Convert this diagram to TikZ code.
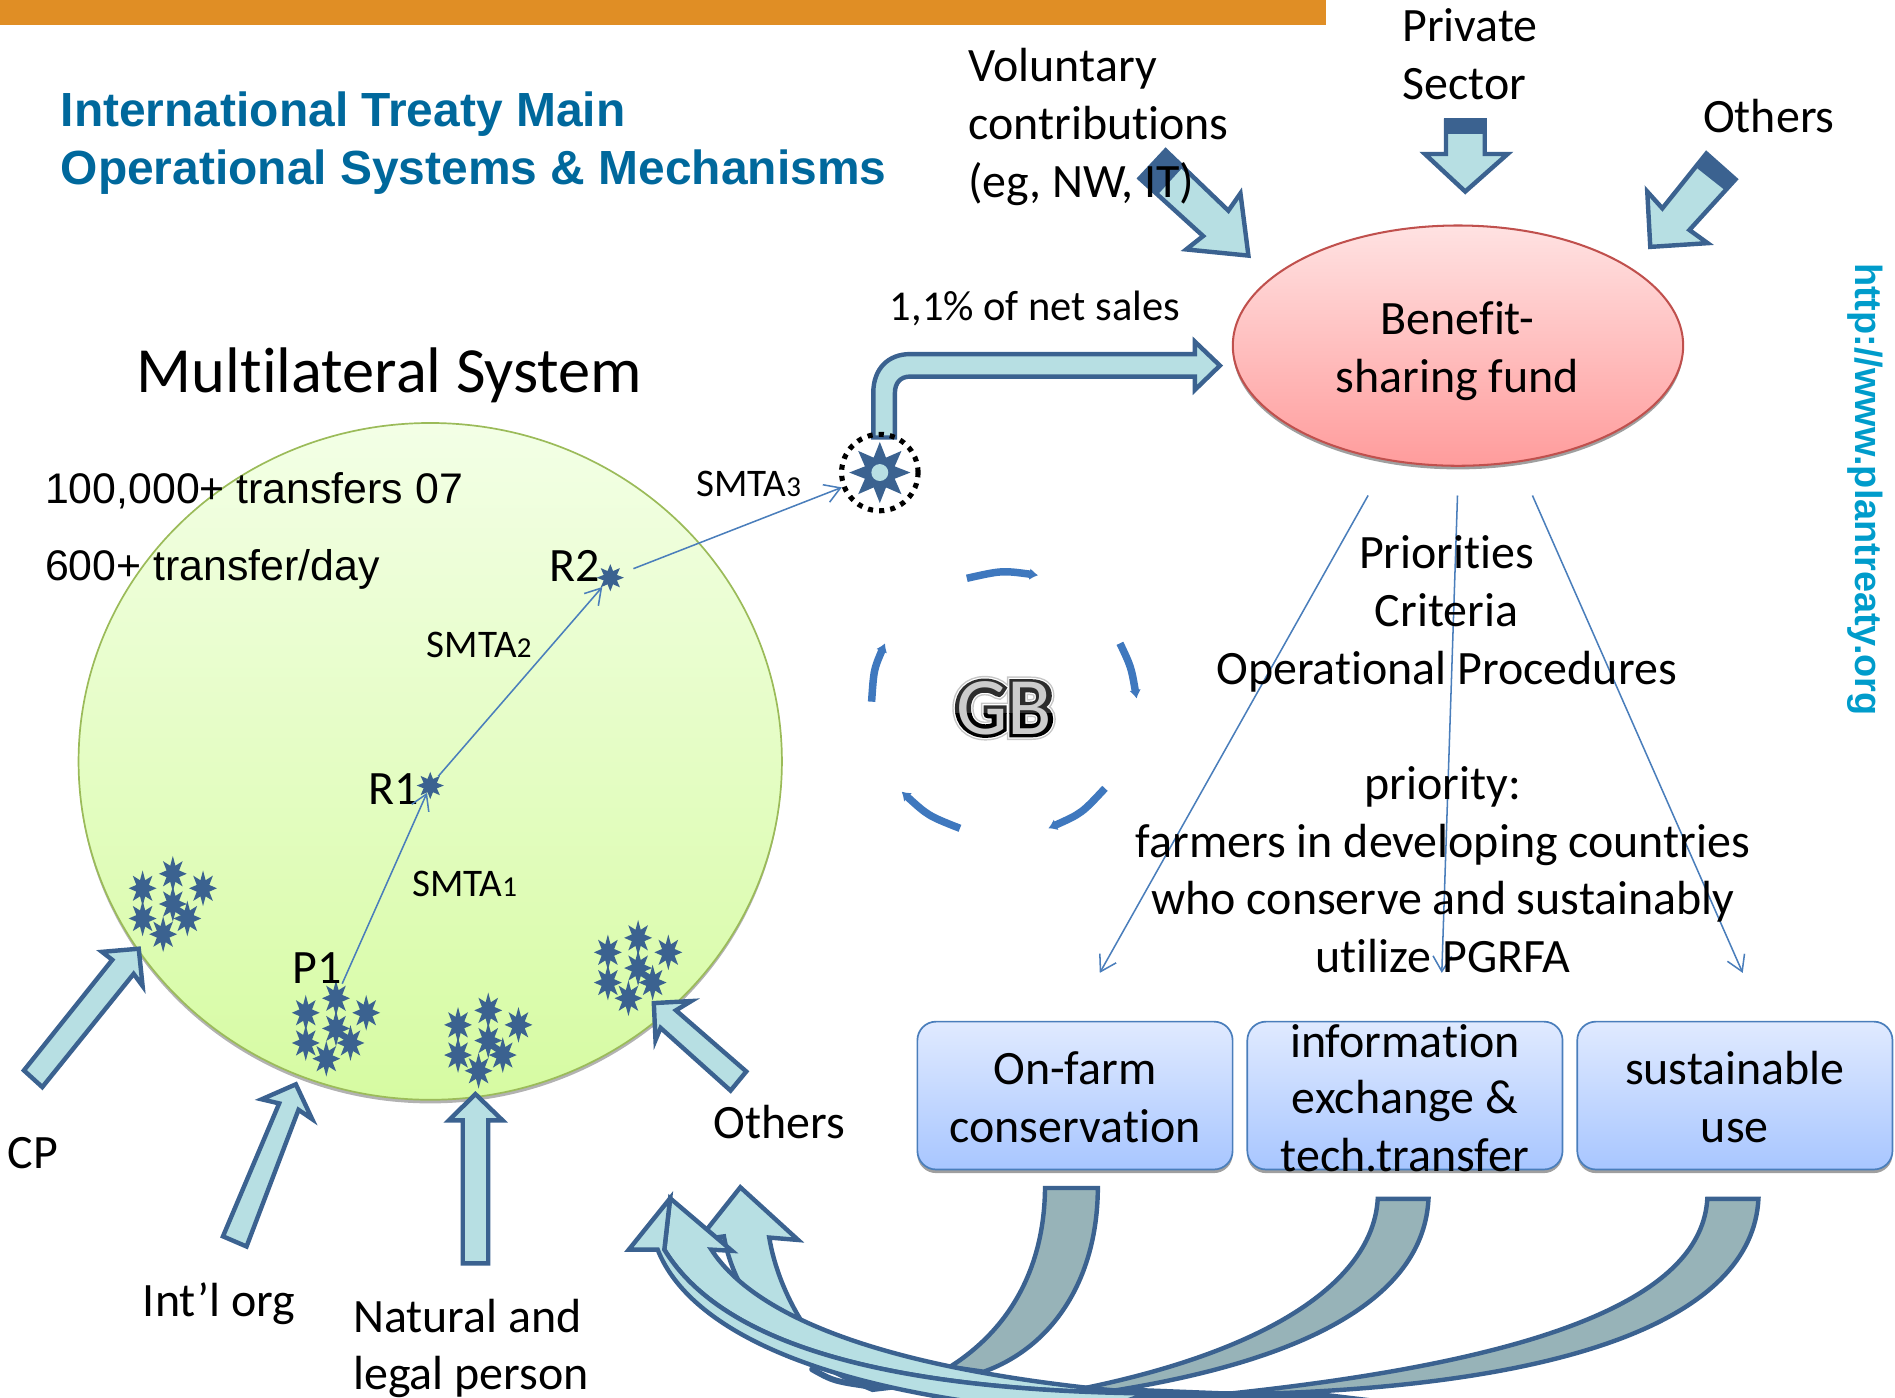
\documentclass[tikz,border=0pt]{standalone}
\usepackage{fontspec}
\setmainfont{Carlito}[Ligatures=NoCommon]
\newfontfamily\arialfont{Liberation Sans}
\newfontface\gbhalo{Carlito Bold}[FakeBold=13]
\newfontface\gbwhite{Carlito Bold}[FakeBold=9.5]
\newfontface\gbdark{Carlito Bold}[FakeBold=6.5]
\usetikzlibrary{shapes.geometric,arrows.meta}
\definecolor{dkblue}{HTML}{3B6290}
\definecolor{pale}{HTML}{B7DFE3}
\definecolor{teal}{HTML}{97B3B8}
\definecolor{thinblue}{HTML}{4A7EBB}
\definecolor{titleblue}{HTML}{00689C}
\definecolor{urlblue}{HTML}{009CCB}
\definecolor{barorange}{HTML}{E08E25}
\definecolor{turnblue}{HTML}{3F78BE}
\tikzset{
    lbl/.style={font=\fontsize{28.2}{34}\selectfont, inner sep=0pt, anchor=base west, yshift=-1.2pt},
    lblc/.style={font=\fontsize{28.2}{34}\selectfont, inner sep=0pt, anchor=base, yshift=-1.2pt},
    small/.style={font=\fontsize{23}{28}\selectfont, inner sep=0pt, anchor=base west, yshift=-.8pt},
    arial/.style={font=\arialfont\fontsize{25.2}{31}\selectfont, inner sep=0pt, anchor=base west, yshift=-1pt},
    headline/.style={font=\arialfont\bfseries\fontsize{28.2}{34}\selectfont, text=titleblue, inner sep=0pt, anchor=base west},
    bigarrow/.style={draw=dkblue, fill=pale, line width=2.6pt, line join=miter},
    bendarrow/.style={draw=dkblue, fill=teal, line width=2.6pt},
    thinarrow/.style={draw=thinblue, line width=.9pt, -{Straight Barb[length=9pt,width=11pt]}},
    turnarrow/.style={draw=turnblue, line width=4.4pt, -{Latex[length=5pt,width=7pt]}},
    starmark/.style={star, star points=8, star point ratio=1.9, inner sep=0pt, minimum size=17pt, fill=dkblue},
    tallstar/.style={starmark, star point ratio=2.05, minimum size=21pt, xscale=.78, transform shape},
    taskbox/.style={rectangle, rounded corners=11pt, draw=thinblue, line width=1pt,
        top color={rgb,255:red,224;green,234;blue,255}, bottom color={rgb,255:red,168;green,198;blue,255}, minimum width=185.5pt, minimum height=87pt},
    boxshade/.style={rectangle, rounded corners=11pt, fill=gray!75, minimum width=185.5pt, minimum height=87pt},
    gbtext/.style={inner sep=0pt},
}
\begin{document}
\begin{tikzpicture}[x=0.025cm, y=-0.025cm]
\useasboundingbox (0,0) rectangle (1568,1156);
\clip (0,0) rectangle (1568,1156);

% top bar and title
\fill[barorange] (0,0) rectangle (1097,20.5);
\node[headline] (title1) at (50,105) {International Treaty Main};
\node[headline] (title2) at (50,153) {Operational Systems \& Mechanisms};

% multilateral circle
\fill[gray!60] (356,633) ellipse (291 and 280);
\draw[draw={rgb,255:red,155;green,187;blue,89}, line width=1pt, top color={rgb,255:red,243;green,255;blue,230}, bottom color={rgb,255:red,214;green,251;blue,162}]
    (356,630) ellipse (291 and 280);
\node[font=\fontsize{37.9}{42}\selectfont, inner sep=0pt, anchor=base west] (mls) at (113,325) {Multilateral System};
\node[arial] (count1) at (37,415) {100,000+ transfers 07};
\node[arial] (count2) at (37,479) {600+ transfer/day};

% stars
\foreach \cx/\cy/\cn in {143/723/a,278/826/b,404/836/c,528/776/d}
{
    \foreach \dx/\dy/\i in {-25/12/1,0/0/2,25/12/3,0/25/4,-25/37/5,12/37/6,-8/50/7}
    {
        \node[tallstar] (star\cn\i) at (\cx+\dx,\cy+\dy) {};
    }
}
\node[starmark, minimum size=16pt] (r1) at (356,650) {};
\node[starmark, minimum size=16pt] (r2) at (505,478) {};
\node[lbl] (r1text) at (305,664) {R1};
\node[lbl] (r2text) at (454,479.5) {R2};
\node[lbl] (p1text) at (242,812) {P1};
\node[small] (smta1) at (341,741) {SMTA{\fontsize{17}{20}\selectfont 1}};
\node[small] (smta2) at (353,543) {SMTA{\fontsize{17}{20}\selectfont 2}};
\node[small] (smta3) at (576,410) {SMTA{\fontsize{17}{20}\selectfont 3}};

% elbow from hub to fund
\draw[bigarrow] (722.6,362)--(722.6,325) .. controls (722.6,305) and (735,293) .. (753,293)
    --(988.7,293)--(988.7,282.7)--(1009.4,302.5)--(988.7,322.6)--(988.7,311.6)--(753,311.6)
    .. controls (745,311.6) and (740.5,317) .. (740.5,325)--(740.5,362)--cycle;
\node[starmark, minimum size=36pt] (hubstar) at (728,391) {};
\fill[pale] (hubstar.center) circle (7);
\node[circle, draw=black, line width=3pt, dash pattern=on 3pt off 3.6pt, minimum size=45pt, inner sep=0pt] (hub) at (728,391) {};

\draw[thinarrow] (p1text.south east)--(r1);
\draw[thinarrow] (r1)--(r2);
\draw[thinarrow, shorten <=10pt] (r2)--(hub);
\node[small, font=\fontsize{25}{30}\selectfont] (sales) at (736,264) {1,1\% of net sales};

% fund
\fill[gray!75] (1206.4,289) ellipse (186.4 and 99.4);
\node[ellipse, draw={rgb,255:red,192;green,80;blue,77}, line width=1.2pt, top color={rgb,255:red,255;green,226;blue,226}, bottom color={rgb,255:red,255;green,156;blue,156},
    minimum width=265pt, minimum height=141.4pt, inner sep=0pt] (fund) at (1206.4,286) {};
\node[lblc] (fund1) at (1206,275) {Benefit-};
\node[lblc] (fund2) at (1206,323) {sharing fund};

% sources of the fund
\draw[bigarrow] (964.5,124.5)--(1016.4,174.3)--(1026.4,160)--(1033,211.5)--(981.5,206.4)--(995.5,195.3)--(943,147.6)--cycle;
\fill[dkblue] (964.5,123.3)--(941.6,147.6)--(958,161)--(979,138)--cycle;
\draw[bigarrow] (1196.5,100)--(1196.5,127.4)--(1179,127.4)--(1212.4,158.5)--(1247.5,127.4)--(1228.5,127.4)--(1228.5,100)--cycle;
\fill[dkblue] (1195,98)--(1230,98)--(1230,111)--(1195,111)--cycle;
\draw[bigarrow] (1411.9,127)--(1375.5,172.4)--(1363,158.5)--(1365.5,204.3)--(1413,201.2)--(1397.9,190.3)--(1436,148.4)--cycle;
\fill[dkblue] (1411.9,126)--(1437.3,148.4)--(1426.8,157)--(1404.4,139.3)--cycle;
\node[lbl] (vol1) at (801,66) {Voluntary};
\node[lbl] (vol2) at (801,114) {contributions};
\node[lbl] (vol3) at (801,162) {(eg, NW, IT)};
\node[lbl] (priv1) at (1160,33) {Private};
\node[lbl] (priv2) at (1160,80.5) {Sector};
\node[lbl] (oth1) at (1409,108) {Others};

% fund to boxes
\coordinate (fundl) at (1132,410);
\coordinate (fundm) at (1206,410);
\coordinate (fundr) at (1268,410);
\coordinate (targl) at (910,805);
\coordinate (targm) at (1193,805);
\coordinate (targr) at (1442,805);
\draw[thinarrow] (fundl)--(targl);
\draw[thinarrow] (fundm)--(targm);
\draw[thinarrow] (fundr)--(targr);

\node[lblc] (crit1) at (1197,469) {Priorities};
\node[lblc] (crit2) at (1197,517) {Criteria};
\node[lblc] (crit3) at (1197,565) {Operational Procedures};
\node[lblc] (prio1) at (1194,660) {priority:};
\node[lblc] (prio2) at (1194,708) {farmers in developing countries};
\node[lblc] (prio3) at (1194,755) {who conserve and sustainably};
\node[lblc] (prio4) at (1194,803) {utilize PGRFA};
\node[font=\arialfont\bfseries\fontsize{22.3}{26}\selectfont, text=urlblue, rotate=-90, inner sep=0pt] (url) at (1543,405) {http://www.plantreaty.org};

% GB cycle
\draw[turnarrow] (800,478.5) .. controls (829,472) .. (859,476);
\draw[turnarrow] (926.7,532.3) .. controls (936,552) .. (940.5,578);
\draw[turnarrow] (914.3,652.3) .. controls (895,673) .. (867.4,685.4);
\draw[turnarrow] (794.3,685.4) .. controls (768,675) .. (746,655);
\draw[turnarrow] (721.2,580.6) .. controls (723,554) .. (732.3,532.3);
\node[gbtext, font=\gbhalo\fontsize{48}{52}\selectfont, text=gray!45] (gbo) at (831,586) {GB};
\node[gbtext, font=\gbwhite\fontsize{48}{52}\selectfont, text=white] (gbw) at (831,586) {GB};
\begin{scope}
    \clip (780,540) rectangle (880,590);
    \node[gbtext, font=\gbdark\fontsize{48}{52}\selectfont, text=gray!35!black] (gbu) at (831,586) {GB};
\end{scope}
\begin{scope}
    \clip (780,590) rectangle (880,630);
    \node[gbtext, font=\gbdark\fontsize{48}{52}\selectfont, text=black] (gbl) at (831,586) {GB};
\end{scope}
\node[gbtext, font=\fontsize{48}{52}\selectfont, text=gray!40] (gb) at (831,586) {GB};

% boxes
\foreach \cx/\nm in {889.5/farm,1162.5/info,1435.5/use}
{
    \node[boxshade] (shade\nm) at (\cx,909.5) {};
    \node[taskbox] (box\nm) at (\cx,906.5) {};
}
\node[lblc] (box1a) at (889.5,896) {On-farm};
\node[lblc] (box1b) at (889.5,944) {conservation};
\node[lblc] (box2a) at (1162.5,873) {information};
\node[lblc] (box2b) at (1162.5,920) {exchange \&};
\node[lblc] (box2c) at (1162.5,968) {tech.transfer};
\node[lblc] (box3a) at (1435.5,896) {sustainable};
\node[lblc] (box3b) at (1435.5,944) {use};

% contributors to the circle
\draw[bigarrow] (19.8,885.7)--(92.9,794.2)--(84.4,787.6)--(114.8,785)--(118,815.9)--(110.6,805.8)--(35,899.5)--cycle;
\draw[bigarrow] (184.5,1023)--(231,913)--(216.5,909.6)--(244.8,897.2)--(258.3,926)--(247,918.3)--(204,1031.4)--cycle;
\draw[bigarrow] (382.9,1045.3)--(382.9,927)--(371.4,927)--(393.4,905.3)--(415.8,927)--(404,927)--(404,1045.3)--cycle;
\draw[bigarrow] (617.5,886.6)--(559.3,836)--(572,828.3)--(541,830)--(542.4,860.6)--(546.6,850.5)--(604.5,902.4)--cycle;
\node[lbl] (cp) at (6,965) {CP};
\node[lbl] (intl) at (118,1088) {Int’l org};
\node[lbl] (nat1) at (292,1100.5) {Natural and};
\node[lbl] (nat2) at (292,1148) {legal person};
\node[lbl] (oth2) at (590,940) {Others};

% curved arrows back to the circle
\fill[dkblue] (790,1157) .. controls (850,1150) .. (906,1147)--(1009,1151)--(1085,1151)--(1135,1157)--cycle;
\draw[bigarrow] (612.6,982.4)--(578,1026)--(599,1023) .. controls (610,1085) and (660,1125) .. (722,1150)
    --(790,1142)--(722,1150) .. controls (680,1130) and (645,1075) .. (636.5,1024)--(660.4,1026)--cycle;
\draw[bendarrow] (864.7,983)--(908.4,983) .. controls (908,1060) and (870,1115) .. (814,1135)
    --(786,1131) .. controls (835,1100) and (864,1050) .. (864.7,983)--cycle;
\draw[bendarrow] (1140,992)--(1182,992) .. controls (1178,1070) and (1090,1125) .. (913,1152)
    --(880,1152) .. controls (1050,1120) and (1136,1060) .. (1140,992)--cycle;
\draw[bendarrow] (1412.7,992)--(1455,992) .. controls (1450,1090) and (1300,1150) .. (1009,1154)
    .. controls (1290,1125) and (1408,1070) .. (1412.7,992)--cycle;
\draw[bigarrow] (554.5,991.5)--(605.7,1035)--(588.6,1034) .. controls (625,1090) and (730,1130) .. (906,1149)
    --(950,1153) .. controls (700,1150) and (590,1100) .. (549.7,1034)--cycle;
\draw[bigarrow] (554.5,991.5)--(520.3,1034)--(544.2,1034) .. controls (570,1100) and (680,1155) .. (900,1170)
    --(950,1153) .. controls (700,1150) and (590,1100) .. (549.7,1034)--cycle;
\draw[dkblue, line width=3.5pt, line cap=round] (672,1133) .. controls (690,1143) .. (725,1148);
\end{tikzpicture}
\end{document}
